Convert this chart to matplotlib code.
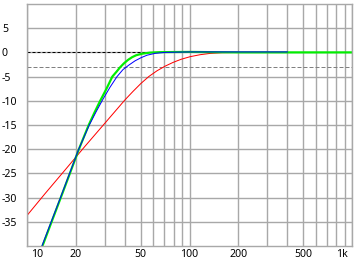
import numpy as np
import matplotlib
matplotlib.use('Agg')
import matplotlib.pyplot as plt
import matplotlib.transforms as mtransforms

# frequency response curves (Hz, dB)
red_f = [10, 12.9, 17.14, 22.74, 30.2, 40.1, 44.9, 50.3, 56.3, 63.1, 70.7, 79.2,
         88.7, 100.7, 116, 133.7, 158.5, 204.6, 400]
red_db = [-33.7, -29.2, -24.3, -19.4, -14.6, -9.8, -8.06, -6.4, -4.96, -3.8, -2.85, -2.07,
          -1.43, -0.89, -0.48, -0.21, -0.06, 0.0, 0.0]

green_f = [12.45, 14.17, 16.14, 18.36, 20.86, 23.98, 25.95, 28.21, 30.85, 33.5, 35.54,
           37.35, 39.53, 41.83, 44.28, 46.86, 51.0, 57.1, 65.8, 100, 200, 1000]
green_db = [-40, -35, -30, -25, -20, -15, -12.5, -10, -7.5, -5, -4.0,
            -3.1, -2.25, -1.55, -1.0, -0.6, -0.27, -0.05, 0.05, 0.1, 0.0, 0.0]

blue_f = [12.36, 14.09, 16.07, 18.29, 20.81, 24.17, 26.59, 29.36, 32.42, 35.8, 38.97,
          42.43, 46.19, 50.29, 54.77, 61.33, 70.67, 100, 400]
blue_db = [-40, -35, -30, -25, -20, -15, -12.3, -9.65, -7.2, -5.0, -3.55,
           -2.6, -1.75, -1.1, -0.58, -0.2, 0.0, 0.1, 0.1]

ref_levels = [0, -3]

x_grid = [10, 20, 30, 40, 50, 60, 70, 80, 90, 100, 200, 300, 400, 500, 600, 700, 800, 900, 1000]
x_labels = ['10', '20', '', '', '50', '', '', '', '', '100', '200', '', '', '500', '', '', '', '', '1k']
y_ticks = [5, 0, -5, -10, -15, -20, -25, -30, -35]
y_labels = ['5', '0', '-5', '-10', '-15', '-20', '-25', '-30', '-35']

W, H = 358, 263
fig = plt.figure(figsize=(W / 100, H / 100), dpi=100)
ax = fig.add_axes([27 / W, 17 / H, 325 / W, 242 / H])

px = 0.72  # one pixel in points
gridc = '#a8a8a8'

ax.set_xscale('log')
ax.set_xlim(10, 1000)
ax.set_ylim(-40, 10)

ax.set_xticks(x_grid)
ax.set_xticklabels(x_labels)
ax.xaxis.set_minor_locator(matplotlib.ticker.NullLocator())
ax.set_yticks(y_ticks)
ax.set_yticklabels(y_labels)
ax.grid(True, color=gridc, linewidth=1.4 * px)
ax.set_axisbelow(True)
for s in ax.spines.values():
    s.set_color(gridc)
    s.set_linewidth(1.4 * px)

font = dict(family=['Noto Sans', 'DejaVu Sans'], size=7.6)
ax.tick_params(axis='both', length=0, colors='black')
ax.tick_params(axis='x', pad=2.5)
ax.tick_params(axis='y', pad=18)
for lab in ax.get_xticklabels() + ax.get_yticklabels():
    lab.set_fontfamily(font['family'])
    lab.set_fontsize(font['size'])
for lab in ax.get_yticklabels():
    lab.set_horizontalalignment('left')

# keep the edge labels inside the plot width
xl = ax.get_xticklabels()
xl[0].set_horizontalalignment('left')
xl[0].set_transform(xl[0].get_transform() + mtransforms.ScaledTranslation(4 / 100, 0, fig.dpi_scale_trans))
xl[-1].set_horizontalalignment('right')
xl[-1].set_transform(xl[-1].get_transform() + mtransforms.ScaledTranslation(-4 / 100, 0, fig.dpi_scale_trans))

# reference levels
ax.axhline(ref_levels[0], color='black', linewidth=px, linestyle=(0, (3, 2)))
ax.axhline(ref_levels[1], color='#808080', linewidth=px, linestyle=(0, (4, 2)))

ax.plot(red_f, red_db, color='#ff0000', linewidth=px)
ax.plot(green_f, green_db, color='#00ee00', linewidth=2.2 * px)
ax.plot(blue_f, blue_db, color='#0000ff', linewidth=px)

fig.savefig('out.png', dpi=100)
